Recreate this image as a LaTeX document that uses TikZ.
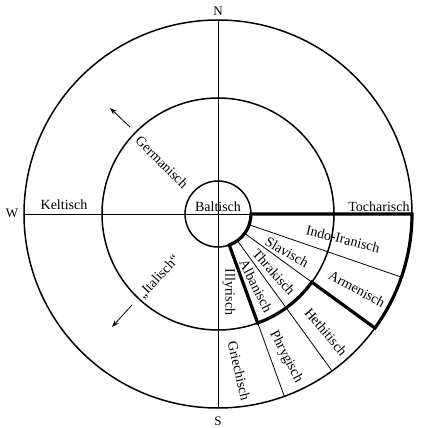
\documentclass[tikz,border=0pt]{standalone}
\usepackage{fontspec}
\setmainfont{Liberation Serif}
\usepackage{tikz}
\usetikzlibrary{arrows.meta,positioning,calc}

\begin{document}
\begin{tikzpicture}[
    x=1pt, y=1pt,
    % --- STYLES ---
    ring/.style={draw=black, line width=1.5pt},
    axis/.style={draw=black, line width=0.7pt},
    border/.style={draw=black, line width=3.2pt, line join=miter},
    divider/.style={draw=black, line width=0.8pt},
    lang/.style={font=\fontsize{14}{16}\selectfont, inner sep=1pt},
    compass/.style={font=\fontsize{13}{15}\selectfont, inner sep=1pt},
    drift/.style={-{Stealth[length=7pt,width=5pt]}, line width=0.8pt}
]

\useasboundingbox (-218,-214) rectangle (209,214);

% ===== 1. RADII & RINGS =====
\def\rOut{194}
\def\rMid{116}
\def\rIn{33}

\coordinate (c) at (0,0);
\draw[ring] (c) circle (\rOut);
\draw[ring] (c) circle (\rMid);
\draw[ring] (c) circle (\rIn);

% ===== 2. AXES =====
\draw[axis] (90:\rOut) -- (270:\rOut);
\draw[axis] (180:\rOut) -- (0:\rIn);

\node[compass] (north) at (0,203) {N};
\node[compass] (south) at (0,-207) {S};
\node[compass] (west) at (-206,1) {W};
\node[compass] (east) at (215,-8) {O};

% ===== 3. EASTERN SECTORS =====
\draw[divider] (-19:\rIn) -- (-19:\rOut);
\draw[divider] (-36:\rIn) -- (-36:\rMid);
\draw[divider] (-54:\rIn) -- (-54:\rOut);
\draw[divider] (-70:\rMid) -- (-70:\rOut);

% thick outline
\draw[border] (0:\rIn) -- (0:\rOut)
    arc[start angle=0, end angle=-36, radius=\rOut] -- (-36:\rMid)
    arc[start angle=-36, end angle=-70, radius=\rMid] -- (-70:\rIn)
    arc[start angle=-70, end angle=0, radius=\rIn] -- cycle;

% ===== 4. LABELS =====
\node[lang] (baltisch) at (0,7) {Baltisch};
\node[lang] (keltisch) at (-154,9) {Keltisch};
\node[lang] (tocharisch) at (161,7) {Tocharisch};
\node[lang, rotate=-14] (indoiran) at (125,-25) {Indo-Iranisch};
\node[lang, rotate=-30] (slavisch) at (69,-38) {Slavisch};
\node[lang, rotate=-48] (thrakisch) at (56,-58) {Thrakisch};
\node[lang, rotate=-63] (albanisch) at (38,-72) {Albanisch};
\node[lang, rotate=-28] (armenisch) at (139,-75) {Armenisch};
\node[lang, rotate=-90] (illyrisch) at (11,-78) {Illyrisch};
\node[lang, rotate=-50] (hethitisch) at (108,-118) {Hethitisch};
\node[lang, rotate=-62] (phrygisch) at (68,-143) {Phrygisch};
\node[lang, rotate=-77] (griechisch) at (21,-157) {Griechisch};
\node[lang, rotate=-45] (germanisch) at (-56,52) {Germanisch};
\node[lang, rotate=47] (italisch) at (-59,-63) {„Italisch“};

% ===== 5. MIGRATION ARROWS =====
\coordinate (nwTail) at (-88,87);
\coordinate (nwHead) at (-108,106);
\coordinate (swTail) at (-86,-91);
\coordinate (swHead) at (-106,-113);

\draw[drift] (nwTail) -- (nwHead);
\draw[drift] (swTail) -- (swHead);

\end{tikzpicture}
\end{document}
